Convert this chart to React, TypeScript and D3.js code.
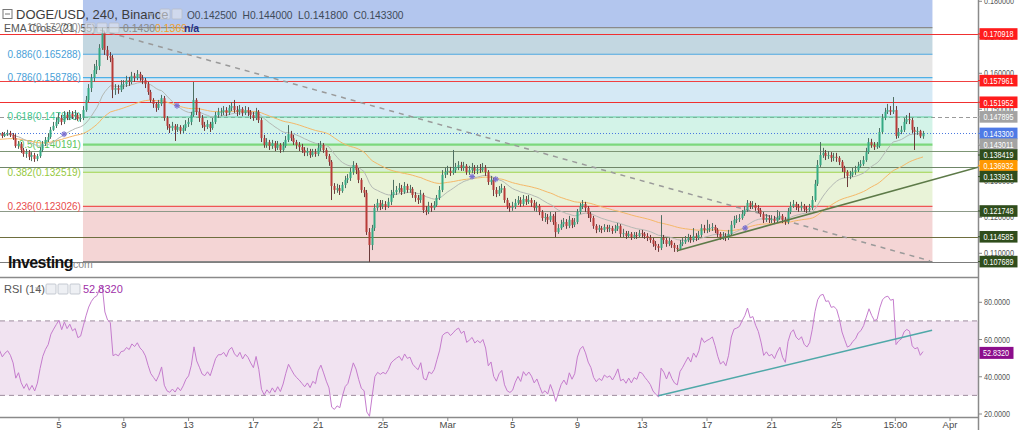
import React from "react";
import * as d3 from "d3";

// ---------- DATA (DOGE/USD 4h, Binance) ----------
const barStartUtc = Date.UTC(2022, 1, 1, 0, 0);
const barHours = 4;
const firstOpen = 0.1429;

const closes = [
  0.1431, 0.1429, 0.1434, 0.1426, 0.1431, 0.1434,
  0.1429, 0.1420, 0.1398, 0.1404, 0.1387, 0.1376,
  0.1381, 0.1368, 0.1373, 0.1362, 0.1370, 0.1387,
  0.1404, 0.1415, 0.1423, 0.1443, 0.1454, 0.1465,
  0.1476, 0.1465, 0.1484, 0.1476, 0.1487, 0.1479,
  0.1484, 0.1473, 0.1476, 0.1498, 0.1526, 0.1559,
  0.1587, 0.1609, 0.1620, 0.1670, 0.1712, 0.1665,
  0.1648, 0.1643, 0.1554, 0.1559, 0.1554, 0.1568,
  0.1570, 0.1581, 0.1576, 0.1593, 0.1587, 0.1598,
  0.1587, 0.1581, 0.1570, 0.1548, 0.1526, 0.1515,
  0.1504, 0.1515, 0.1531, 0.1476, 0.1454, 0.1448,
  0.1454, 0.1443, 0.1451, 0.1440, 0.1448, 0.1459,
  0.1465, 0.1484, 0.1526, 0.1493, 0.1476, 0.1456,
  0.1451, 0.1459, 0.1448, 0.1465, 0.1484, 0.1493,
  0.1493, 0.1498, 0.1490, 0.1504, 0.1509, 0.1498,
  0.1493, 0.1501, 0.1490, 0.1498, 0.1493, 0.1484,
  0.1476, 0.1493, 0.1470, 0.1420, 0.1401, 0.1409,
  0.1398, 0.1406, 0.1393, 0.1401, 0.1387, 0.1398,
  0.1415, 0.1431, 0.1420, 0.1409, 0.1401, 0.1395,
  0.1387, 0.1379, 0.1384, 0.1373, 0.1381, 0.1376,
  0.1393, 0.1401, 0.1387, 0.1370, 0.1354, 0.1287,
  0.1276, 0.1281, 0.1273, 0.1290, 0.1304, 0.1309,
  0.1326, 0.1345, 0.1331, 0.1304, 0.1276, 0.1268,
  0.1159, 0.1123, 0.1170, 0.1226, 0.1240, 0.1231,
  0.1237, 0.1231, 0.1243, 0.1262, 0.1270, 0.1276,
  0.1281, 0.1270, 0.1287, 0.1276, 0.1279, 0.1262,
  0.1254, 0.1248, 0.1262, 0.1220, 0.1215, 0.1231,
  0.1226, 0.1234, 0.1254, 0.1276, 0.1318, 0.1326,
  0.1329, 0.1323, 0.1331, 0.1340, 0.1345, 0.1337,
  0.1343, 0.1326, 0.1331, 0.1337, 0.1329, 0.1334,
  0.1331, 0.1337, 0.1326, 0.1298, 0.1304, 0.1276,
  0.1265, 0.1276, 0.1281, 0.1248, 0.1231, 0.1226,
  0.1229, 0.1240, 0.1248, 0.1237, 0.1251, 0.1243,
  0.1248, 0.1240, 0.1226, 0.1231, 0.1215, 0.1198,
  0.1201, 0.1193, 0.1204, 0.1187, 0.1159, 0.1170,
  0.1181, 0.1187, 0.1176, 0.1193, 0.1179, 0.1187,
  0.1215, 0.1231, 0.1237, 0.1226, 0.1209, 0.1198,
  0.1176, 0.1165, 0.1170, 0.1165, 0.1173, 0.1168,
  0.1170, 0.1162, 0.1168, 0.1176, 0.1154, 0.1156,
  0.1148, 0.1154, 0.1145, 0.1151, 0.1148, 0.1156,
  0.1154, 0.1148, 0.1143, 0.1137, 0.1126, 0.1120,
  0.1115, 0.1143, 0.1137, 0.1126, 0.1134, 0.1123,
  0.1115, 0.1112, 0.1126, 0.1131, 0.1137, 0.1143,
  0.1137, 0.1148, 0.1143, 0.1151, 0.1170, 0.1165,
  0.1168, 0.1170, 0.1173, 0.1165, 0.1154, 0.1145,
  0.1148, 0.1143, 0.1154, 0.1179, 0.1193, 0.1195,
  0.1198, 0.1209, 0.1220, 0.1240, 0.1231, 0.1234,
  0.1226, 0.1220, 0.1209, 0.1193, 0.1198, 0.1193,
  0.1195, 0.1190, 0.1198, 0.1204, 0.1193, 0.1187,
  0.1215, 0.1231, 0.1237, 0.1229, 0.1226, 0.1231,
  0.1223, 0.1220, 0.1226, 0.1248, 0.1293, 0.1345,
  0.1373, 0.1379, 0.1370, 0.1373, 0.1365, 0.1368,
  0.1365, 0.1354, 0.1337, 0.1326, 0.1315, 0.1318,
  0.1326, 0.1331, 0.1343, 0.1348, 0.1359, 0.1381,
  0.1409, 0.1401, 0.1395, 0.1398, 0.1437, 0.1476,
  0.1493, 0.1498, 0.1493, 0.1498, 0.1426, 0.1437,
  0.1443, 0.1465, 0.1473, 0.1470, 0.1443, 0.1437,
  0.1440, 0.1425, 0.1433,
];

const highs = [
  0.1440, 0.1437, 0.1440, 0.1437, 0.1437, 0.1443,
  0.1440, 0.1434, 0.1431, 0.1412, 0.1409, 0.1393,
  0.1390, 0.1387, 0.1381, 0.1379, 0.1376, 0.1395,
  0.1412, 0.1423, 0.1434, 0.1451, 0.1465, 0.1476,
  0.1490, 0.1484, 0.1495, 0.1493, 0.1498, 0.1495,
  0.1498, 0.1490, 0.1487, 0.1509, 0.1537, 0.1570,
  0.1598, 0.1626, 0.1637, 0.1681, 0.1727, 0.1715,
  0.1676, 0.1659, 0.1651, 0.1570, 0.1568, 0.1581,
  0.1581, 0.1593, 0.1590, 0.1604, 0.1601, 0.1609,
  0.1604, 0.1595, 0.1587, 0.1576, 0.1554, 0.1531,
  0.1520, 0.1526, 0.1540, 0.1537, 0.1481, 0.1459,
  0.1465, 0.1459, 0.1459, 0.1456, 0.1456, 0.1470,
  0.1476, 0.1493, 0.1576, 0.1531, 0.1504, 0.1484,
  0.1465, 0.1470, 0.1465, 0.1476, 0.1493, 0.1504,
  0.1504, 0.1509, 0.1506, 0.1512, 0.1520, 0.1526,
  0.1509, 0.1512, 0.1506, 0.1509, 0.1506, 0.1498,
  0.1493, 0.1504, 0.1498, 0.1476, 0.1429, 0.1420,
  0.1415, 0.1415, 0.1412, 0.1412, 0.1406, 0.1409,
  0.1426, 0.1456, 0.1440, 0.1429, 0.1415, 0.1409,
  0.1404, 0.1395, 0.1393, 0.1390, 0.1390, 0.1390,
  0.1406, 0.1412, 0.1406, 0.1393, 0.1376, 0.1359,
  0.1295, 0.1293, 0.1290, 0.1298, 0.1315, 0.1320,
  0.1337, 0.1356, 0.1351, 0.1337, 0.1309, 0.1284,
  0.1276, 0.1170, 0.1179, 0.1237, 0.1251, 0.1248,
  0.1248, 0.1245, 0.1254, 0.1276, 0.1304, 0.1287,
  0.1295, 0.1290, 0.1298, 0.1293, 0.1290, 0.1284,
  0.1270, 0.1262, 0.1276, 0.1268, 0.1231, 0.1243,
  0.1240, 0.1245, 0.1262, 0.1287, 0.1331, 0.1337,
  0.1343, 0.1340, 0.1387, 0.1351, 0.1356, 0.1354,
  0.1354, 0.1348, 0.1343, 0.1351, 0.1345, 0.1345,
  0.1348, 0.1351, 0.1345, 0.1331, 0.1315, 0.1309,
  0.1284, 0.1287, 0.1293, 0.1287, 0.1254, 0.1240,
  0.1243, 0.1251, 0.1259, 0.1256, 0.1262, 0.1259,
  0.1262, 0.1254, 0.1248, 0.1243, 0.1237, 0.1220,
  0.1212, 0.1209, 0.1215, 0.1209, 0.1215, 0.1181,
  0.1193, 0.1198, 0.1195, 0.1204, 0.1198, 0.1198,
  0.1223, 0.1240, 0.1248, 0.1243, 0.1231, 0.1215,
  0.1204, 0.1181, 0.1179, 0.1176, 0.1181, 0.1179,
  0.1179, 0.1176, 0.1179, 0.1184, 0.1181, 0.1168,
  0.1162, 0.1162, 0.1159, 0.1159, 0.1159, 0.1165,
  0.1165, 0.1159, 0.1156, 0.1151, 0.1143, 0.1134,
  0.1126, 0.1206, 0.1151, 0.1143, 0.1143, 0.1137,
  0.1129, 0.1123, 0.1137, 0.1143, 0.1148, 0.1154,
  0.1151, 0.1170, 0.1156, 0.1162, 0.1181, 0.1179,
  0.1193, 0.1181, 0.1184, 0.1179, 0.1170, 0.1159,
  0.1159, 0.1156, 0.1165, 0.1190, 0.1204, 0.1206,
  0.1209, 0.1220, 0.1231, 0.1248, 0.1245, 0.1245,
  0.1240, 0.1234, 0.1226, 0.1215, 0.1209, 0.1206,
  0.1206, 0.1204, 0.1220, 0.1215, 0.1209, 0.1201,
  0.1226, 0.1243, 0.1248, 0.1243, 0.1237, 0.1243,
  0.1237, 0.1231, 0.1237, 0.1259, 0.1304, 0.1359,
  0.1409, 0.1393, 0.1387, 0.1384, 0.1381, 0.1379,
  0.1379, 0.1370, 0.1359, 0.1343, 0.1331, 0.1329,
  0.1337, 0.1343, 0.1354, 0.1359, 0.1370, 0.1393,
  0.1420, 0.1418, 0.1409, 0.1409, 0.1448, 0.1487,
  0.1504, 0.1515, 0.1509, 0.1534, 0.1509, 0.1448,
  0.1454, 0.1476, 0.1484, 0.1490, 0.1476, 0.1451,
  0.1451, 0.1443, 0.1440,
];

const lows = [
  0.1423, 0.1423, 0.1426, 0.1420, 0.1423, 0.1426,
  0.1423, 0.1415, 0.1393, 0.1390, 0.1379, 0.1368,
  0.1365, 0.1359, 0.1356, 0.1354, 0.1356, 0.1365,
  0.1381, 0.1398, 0.1409, 0.1418, 0.1440, 0.1448,
  0.1459, 0.1456, 0.1459, 0.1470, 0.1470, 0.1473,
  0.1470, 0.1468, 0.1465, 0.1470, 0.1493, 0.1520,
  0.1548, 0.1576, 0.1598, 0.1609, 0.1665, 0.1651,
  0.1637, 0.1631, 0.1531, 0.1540, 0.1543, 0.1548,
  0.1556, 0.1562, 0.1565, 0.1570, 0.1576, 0.1581,
  0.1579, 0.1570, 0.1559, 0.1540, 0.1518, 0.1504,
  0.1493, 0.1498, 0.1509, 0.1468, 0.1443, 0.1434,
  0.1440, 0.1412, 0.1437, 0.1431, 0.1434, 0.1440,
  0.1451, 0.1456, 0.1479, 0.1484, 0.1465, 0.1448,
  0.1440, 0.1445, 0.1437, 0.1443, 0.1459, 0.1476,
  0.1481, 0.1484, 0.1481, 0.1484, 0.1495, 0.1490,
  0.1481, 0.1484, 0.1481, 0.1484, 0.1481, 0.1473,
  0.1468, 0.1470, 0.1462, 0.1409, 0.1393, 0.1393,
  0.1387, 0.1390, 0.1384, 0.1387, 0.1379, 0.1381,
  0.1393, 0.1409, 0.1412, 0.1401, 0.1390, 0.1384,
  0.1379, 0.1370, 0.1370, 0.1365, 0.1368, 0.1368,
  0.1370, 0.1384, 0.1379, 0.1362, 0.1343, 0.1248,
  0.1265, 0.1268, 0.1262, 0.1268, 0.1281, 0.1295,
  0.1301, 0.1318, 0.1320, 0.1295, 0.1268, 0.1256,
  0.1151, 0.1076, 0.1109, 0.1162, 0.1218, 0.1220,
  0.1223, 0.1220, 0.1226, 0.1234, 0.1254, 0.1262,
  0.1268, 0.1262, 0.1265, 0.1268, 0.1268, 0.1254,
  0.1243, 0.1237, 0.1240, 0.1212, 0.1206, 0.1209,
  0.1215, 0.1220, 0.1229, 0.1248, 0.1270, 0.1309,
  0.1318, 0.1315, 0.1318, 0.1323, 0.1331, 0.1329,
  0.1329, 0.1318, 0.1318, 0.1323, 0.1320, 0.1320,
  0.1323, 0.1326, 0.1315, 0.1290, 0.1290, 0.1259,
  0.1256, 0.1259, 0.1268, 0.1240, 0.1223, 0.1215,
  0.1218, 0.1223, 0.1234, 0.1229, 0.1231, 0.1234,
  0.1237, 0.1229, 0.1218, 0.1215, 0.1206, 0.1190,
  0.1187, 0.1181, 0.1187, 0.1179, 0.1145, 0.1154,
  0.1165, 0.1173, 0.1168, 0.1170, 0.1170, 0.1173,
  0.1181, 0.1209, 0.1223, 0.1215, 0.1198, 0.1187,
  0.1168, 0.1156, 0.1159, 0.1156, 0.1159, 0.1159,
  0.1159, 0.1154, 0.1156, 0.1162, 0.1145, 0.1145,
  0.1140, 0.1143, 0.1137, 0.1140, 0.1140, 0.1143,
  0.1143, 0.1140, 0.1134, 0.1129, 0.1118, 0.1109,
  0.1104, 0.1109, 0.1126, 0.1118, 0.1120, 0.1115,
  0.1104, 0.1104, 0.1109, 0.1120, 0.1126, 0.1131,
  0.1129, 0.1131, 0.1134, 0.1137, 0.1145, 0.1156,
  0.1156, 0.1159, 0.1162, 0.1156, 0.1145, 0.1137,
  0.1137, 0.1134, 0.1137, 0.1148, 0.1170, 0.1184,
  0.1187, 0.1193, 0.1204, 0.1215, 0.1223, 0.1223,
  0.1218, 0.1212, 0.1201, 0.1184, 0.1187, 0.1184,
  0.1184, 0.1181, 0.1184, 0.1193, 0.1184, 0.1179,
  0.1181, 0.1209, 0.1226, 0.1220, 0.1215, 0.1218,
  0.1215, 0.1212, 0.1215, 0.1220, 0.1243, 0.1287,
  0.1340, 0.1365, 0.1359, 0.1362, 0.1354, 0.1356,
  0.1354, 0.1345, 0.1326, 0.1309, 0.1284, 0.1306,
  0.1312, 0.1318, 0.1326, 0.1337, 0.1343, 0.1354,
  0.1376, 0.1393, 0.1387, 0.1390, 0.1393, 0.1431,
  0.1470, 0.1487, 0.1484, 0.1487, 0.1418, 0.1420,
  0.1431, 0.1437, 0.1459, 0.1459, 0.1434, 0.1387,
  0.1429, 0.1420, 0.1418,
];

const ema21Seed = 0.1428;
const ema55Seed = 0.1415;
const rsiSeedGain = 0.00055;
const rsiSeedLoss = 0.0005;

// Fibonacci retracement
const fibLow = 0.107682;
const fibHigh = 0.1727;
const fibStart = "2022-02-06T11:30:00Z";
const fibEnd = "2022-03-30T22:00:00Z";
const fibLevels = [1.618, 1, 0.886, 0.786, 0.618, 0.5, 0.382, 0.236, 0];
const fibLineColors = ["#3f6fd8", "#8a8a8a", "#4da6df", "#4fb0e6", "#5ccf9e", "#7cd87c", "#9ed24a", "#ef5555", "#888888"];
const fibBandColors = ["#b3c6ee", "#c3d7e1", "#e6e6e6", "#d5e9f5", "#d3f3e8", "#d6efd6", "#e9f3d8", "#f4d5d5"];
const fibLabelColors = ["#3f6fd8", "#8a8a8a", "#4a9fd8", "#4a9fd8", "#3fc88e", "#5cc45c", "#95c93e", "#e84c4c", "#888888"];

// horizontal support / resistance lines
const hLinePrices = [0.170918, 0.157961, 0.151952, 0.147895, 0.1433, 0.138419, 0.133931, 0.121748, 0.114585, 0.107689];
const hLineColors = ["#f03030", "#f04040", "#f03030", "#9a9a9a", "#4a78e0", "#7d9575", "#6f8668", "#8d9a89", "#6e6e3e", "#7c7c7c"];
const hLineDash = ["", "", "", "4,3", "1,2", "", "", "", "", ""];

// right axis value labels
const axisLabelValues = [0.170918, 0.157961, 0.151952, 0.147895, 0.1433, 0.143011, 0.138419, 0.136932, 0.133931, 0.121748, 0.114585, 0.107689];
const axisLabelColors = ["#ff1c1c", "#ff1c1c", "#ff1c1c", "#a3a3a3", "#4e7ae6", "#a3a3a3", "#2f4d1c", "#ff9800", "#2f4d1c", "#2f4d1c", "#2f4d1c", "#2f4d1c"];
const priceTicks = [0.11, 0.12, 0.13, 0.14, 0.15, 0.16, 0.17, 0.18];
const rsiTicks = [20, 40, 60, 80];

// trend lines [time, value]
const dashedTrend = [["2022-02-07T13:00:00Z", 0.172], ["2022-03-30T18:30:00Z", 0.1079]];
const priceTrend = [["2022-03-15T03:30:00Z", 0.1107], ["2022-03-29T00:00:00Z", 0.128]];
const rsiTrend = [["2022-03-14T00:00:00Z", 29.8], ["2022-03-30T21:30:00Z", 65]];

// EMA cross markers
const crossTimes = ["2022-02-05T07:30:00Z", "2022-02-12T06:45:00Z", "2022-03-02T12:00:00Z", "2022-03-03T23:00:00Z", "2022-03-19T08:30:00Z"];
const crossPrices = [0.1431, 0.151, 0.1313, 0.1306, 0.117];

// time axis labels
const xTickTimes = ["2022-02-05", "2022-02-09", "2022-02-13", "2022-02-17", "2022-02-21", "2022-02-25", "2022-03-01", "2022-03-05", "2022-03-09", "2022-03-13", "2022-03-17", "2022-03-21", "2022-03-25", "2022-03-28T15:00:00Z", "2022-04-01"];
const xTickLabels = ["5", "9", "13", "17", "21", "25", "Mar", "5", "9", "13", "17", "21", "25", "15:00", "Apr"];

const headerOHLC = ["O0.142500", "H0.144000", "L0.141800", "C0.143300"];
const emaValues = ["0.1430", "0.1369", "n/a"];
const rsiValue = 52.832;

// ---------- LAYOUT ----------
const W = 1024;
const H = 430;
const AXIS_X = 978;
const SPLIT = 277;
const BOTTOM = 417;
const FONT = "'Liberation Sans', Arial, Helvetica, sans-serif";

export default function App() {
  const x = d3
    .scaleUtc()
    .domain([new Date(Date.UTC(2022, 1, 1)), new Date(Date.UTC(2022, 3, 3))])
    .range([-5.8, 982.4]);
  const y = d3.scaleLinear().domain([0.16, 0.11]).range([73.3, 253.3]);
  const yR = d3.scaleLinear().domain([80, 20]).range([302.3, 414]);

  const bars = closes.map((c, i) => {
    const o = i === 0 ? firstOpen : closes[i - 1];
    return {
      t: new Date(barStartUtc + i * barHours * 3600e3),
      o,
      c,
      h: Math.max(highs[i], o, c),
      l: Math.min(lows[i], o, c),
    };
  });

  const ema = (n: number, seed: number) => {
    const a = 2 / (n + 1);
    let e = seed;
    return closes.map((c) => (e = a * c + (1 - a) * e));
  };
  const ema21 = ema(21, ema21Seed);
  const ema55 = ema(55, ema55Seed);

  let ag = rsiSeedGain;
  let al = rsiSeedLoss;
  let prev = firstOpen;
  const rsi = closes.map((c) => {
    const ch = c - prev;
    prev = c;
    ag = (ag * 13 + Math.max(ch, 0)) / 14;
    al = (al * 13 + Math.max(-ch, 0)) / 14;
    return 100 - 100 / (1 + ag / al);
  });

  const lineP = d3
    .line<number>()
    .x((_, i) => x(bars[i].t))
    .y((v) => y(v));
  const lineR = d3
    .line<number>()
    .x((_, i) => x(bars[i].t))
    .y((v) => yR(v));

  const fx1 = x(new Date(fibStart));
  const fx2 = x(new Date(fibEnd));
  const fibPrice = (lv: number) => fibLow + lv * (fibHigh - fibLow);

  // right axis labels with collision avoidance
  const labs = axisLabelValues
    .map((v, i) => ({ v, c: axisLabelColors[i], y: y(v) }))
    .sort((a, b) => a.y - b.y);
  for (let i = 1; i < labs.length; i++) {
    if (labs[i].y < labs[i - 1].y + 10.8) labs[i].y = labs[i - 1].y + 10.8;
  }

  const extendLine = (pts: any[], sy: any, xEnd: number) => {
    const x1 = x(new Date(pts[0][0]));
    const y1 = sy(pts[0][1]);
    const x2 = x(new Date(pts[1][0]));
    const y2 = sy(pts[1][1]);
    const k = (y2 - y1) / (x2 - x1);
    return { x1, y1, x2: xEnd, y2: y1 + k * (xEnd - x1) };
  };
  const dt = { x1: x(new Date(dashedTrend[0][0] as string)), y1: y(dashedTrend[0][1] as number), x2: x(new Date(dashedTrend[1][0] as string)), y2: y(dashedTrend[1][1] as number) };
  const pt = extendLine(priceTrend, y, AXIS_X);
  const rt = { x1: x(new Date(rsiTrend[0][0] as string)), y1: yR(rsiTrend[0][1] as number), x2: x(new Date(rsiTrend[1][0] as string)), y2: yR(rsiTrend[1][1] as number) };

  const upFill = "#35a983";
  const dnFill = "#b83b38";

  const iconBox = (bx: number, by: number, key: string) => (
    <rect key={key} x={bx} y={by} width={10} height={10} rx={1} fill="#e3e6ec" fillOpacity={0.6} stroke="#b8bec8" strokeWidth={0.8} />
  );

  const axisText = (tx: number, ty: number, s: string, fill: string, len: number, key?: string) => (
    <text key={key} x={tx} y={ty} dominantBaseline="central" fontSize={9} fill={fill} textLength={len} lengthAdjust="spacingAndGlyphs">
      {s}
    </text>
  );

  return (
    <svg width={W} height={H} style={{ position: "absolute", left: 0, top: 0, background: "#fff" }} fontFamily={FONT}>
      <defs>
        <clipPath id="mainClip">
          <rect x={0} y={0} width={AXIS_X} height={SPLIT} />
        </clipPath>
        <clipPath id="rsiClip">
          <rect x={0} y={SPLIT} width={AXIS_X} height={BOTTOM - SPLIT} />
        </clipPath>
      </defs>
      <rect x={0} y={0} width={W} height={H} fill="#fff" />

      {/* ---------- MAIN PANE ---------- */}
      <g clipPath="url(#mainClip)">
        {fibBandColors.map((col, k) => {
          const ya = y(fibPrice(fibLevels[k]));
          const yb = y(fibPrice(fibLevels[k + 1]));
          return <rect key={"fb" + k} x={fx1} y={Math.min(ya, yb)} width={fx2 - fx1} height={Math.abs(yb - ya)} fill={col} />;
        })}
        {hLinePrices.map((p, i) => (
          <line key={"hl" + i} x1={0} x2={AXIS_X} y1={Math.round(y(p)) + 0.5} y2={Math.round(y(p)) + 0.5} stroke={hLineColors[i]} strokeWidth={i === 4 ? 1 : 1.2} strokeDasharray={hLineDash[i] || undefined} />
        ))}
        {fibLevels.map((lv, k) =>
          k === 0 ? null : (
            <line key={"fl" + k} x1={fx1} x2={fx2} y1={y(fibPrice(lv))} y2={y(fibPrice(lv))} stroke={fibLineColors[k]} strokeWidth={lv === 0.5 ? 2.2 : 1.2} />
          )
        )}
        {fibLevels.map((lv, k) =>
          k === 0 || lv === 0 ? null : (
            <text key={"ft" + k} x={fx1 - 2} y={y(fibPrice(lv))} textAnchor="end" dominantBaseline="central" fontSize={10} fill={fibLabelColors[k]}>
              {`${lv}(${fibPrice(lv).toFixed(6)})`}
            </text>
          )
        )}
        <line x1={dt.x1} y1={dt.y1} x2={dt.x2} y2={dt.y2} stroke="#9a9a9a" strokeWidth={1.5} strokeDasharray="5,5" />
        <path d={lineP(ema55) || ""} fill="none" stroke="#f5b868" strokeWidth={1} />
        <path d={lineP(ema21) || ""} fill="none" stroke="#b4b9b4" strokeWidth={1} />
        {bars.map((b, i) => {
          const cx = Math.floor(x(b.t));
          const up = b.c >= b.o;
          const yt = y(Math.max(b.o, b.c));
          const yb = y(Math.min(b.o, b.c));
          return (
            <g key={"c" + i}>
              <line x1={cx + 0.5} x2={cx + 0.5} y1={y(b.h)} y2={y(b.l)} stroke={up ? "#4f6f62" : "#6b3a3a"} strokeWidth={1} />
              <rect x={cx - 0.5} y={yt} width={2} height={Math.max(1, yb - yt)} fill={up ? upFill : dnFill} />
            </g>
          );
        })}
        {crossTimes.map((t, i) => {
          const cx = x(new Date(t));
          const cy = y(crossPrices[i]);
          return (
            <g key={"cm" + i} stroke="#7a6fd0" strokeWidth={1.2}>
              <line x1={cx - 3} x2={cx + 3} y1={cy} y2={cy} />
              <line x1={cx} x2={cx} y1={cy - 3} y2={cy + 3} />
              <line x1={cx - 2} x2={cx + 2} y1={cy - 2} y2={cy + 2} />
              <line x1={cx - 2} x2={cx + 2} y1={cy + 2} y2={cy - 2} />
            </g>
          );
        })}
        <line x1={pt.x1} y1={pt.y1} x2={pt.x2} y2={pt.y2} stroke="#5d7a48" strokeWidth={1.6} />
      </g>

      {/* header */}
      <rect x={3} y={9.5} width={9} height={9} fill="none" stroke="#777" strokeWidth={1} />
      <line x1={5} x2={10} y1={14} y2={14} stroke="#777" strokeWidth={1} />
      <text x={16} y={14.5} dominantBaseline="central" fontSize={13} fill="#3c3c3c">
        DOGE/USD, 240, Binance
      </text>
      <path d="M148,13 L154,13 L151,16.5 Z" fill="#9aa4b4" />
      {iconBox(160, 9, "i1")}
      {iconBox(172, 9, "i2")}
      {headerOHLC.map((s, i) => (
        <text key={"oh" + i} x={187 + i * 55.5} y={14.5} dominantBaseline="central" fontSize={11.5} fill="#3e4a58" textLength={50} lengthAdjust="spacingAndGlyphs">
          {s}
        </text>
      ))}
      <text x={4} y={28} dominantBaseline="central" fontSize={10.5} fill="#555">
        EMA Cross (21, 55)
      </text>
      {iconBox(85, 23, "i3")}
      {iconBox(97, 23, "i4")}
      {iconBox(109, 23, "i5")}
      <text x={123} y={28} dominantBaseline="central" fontSize={10.5} fill="#8a8a8a">
        {emaValues[0]}
      </text>
      <text x={155} y={28} dominantBaseline="central" fontSize={10.5} fill="#f0a030">
        {emaValues[1]}
      </text>
      <text x={184} y={28} dominantBaseline="central" fontSize={10.5} fill="#1f2f8a" fontWeight="bold">
        {emaValues[2]}
      </text>

      <text x={8} y={262} dominantBaseline="central" fontSize={16} fontWeight="bold" fill="#111" letterSpacing={-0.6}>
        Investing
      </text>
      <text x={70} y={264} dominantBaseline="central" fontSize={10.5} fill="#8a8a8a">
        .com
      </text>

      {/* ---------- RSI PANE ---------- */}
      <g clipPath="url(#rsiClip)">
        <rect x={0} y={yR(70)} width={AXIS_X} height={yR(30) - yR(70)} fill="#f1e3f1" />
        <line x1={0} x2={AXIS_X} y1={yR(70)} y2={yR(70)} stroke="#9e8c9e" strokeWidth={1} strokeDasharray="5,4" />
        <line x1={0} x2={AXIS_X} y1={yR(30)} y2={yR(30)} stroke="#9e8c9e" strokeWidth={1} strokeDasharray="5,4" />
        <path d={lineR(rsi) || ""} fill="none" stroke="#c57ccd" strokeWidth={1} />
        <line x1={rt.x1} y1={rt.y1} x2={rt.x2} y2={rt.y2} stroke="#4fa8a8" strokeWidth={1.5} />
      </g>
      <text x={4} y={289} dominantBaseline="central" fontSize={11} fill="#555">
        RSI (14)
      </text>
      <path d="M35,287.5 L40,287.5 L37.5,290.5 Z" fill="#aaa" />
      {iconBox(46, 284, "i6")}
      {iconBox(58, 284, "i7")}
      {iconBox(70, 284, "i8")}
      <text x={83} y={289} dominantBaseline="central" fontSize={11} fill="#a030a8">
        {rsiValue.toFixed(4)}
      </text>

      {/* ---------- AXES ---------- */}
      <line x1={0} x2={AXIS_X} y1={SPLIT + 0.5} y2={SPLIT + 0.5} stroke="#8a8a8a" strokeWidth={1.5} />
      <line x1={0} x2={AXIS_X} y1={BOTTOM + 0.5} y2={BOTTOM + 0.5} stroke="#8a8a8a" strokeWidth={1.5} />
      <line x1={AXIS_X + 0.5} x2={AXIS_X + 0.5} y1={0} y2={H} stroke="#8a8a8a" strokeWidth={1.5} />

      {priceTicks.map((p, i) => (
        <g key={"pt" + i}>
          <line x1={AXIS_X} x2={AXIS_X + 4} y1={y(p)} y2={y(p)} stroke="#888" />
          {axisText(984, y(p), p.toFixed(6), "#555", 30)}
        </g>
      ))}
      {labs.map((l, i) => (
        <g key={"al" + i}>
          <line x1={AXIS_X} x2={AXIS_X + 4} y1={l.y} y2={l.y} stroke={l.c} />
          <rect x={AXIS_X + 1.5} y={l.y - 5.8} width={38} height={11.6} fill={l.c} />
          {axisText(983.5, l.y + 0.3, l.v.toFixed(6), "#fff", 30)}
        </g>
      ))}

      {rsiTicks.map((v, i) => (
        <g key={"rt" + i}>
          <line x1={AXIS_X} x2={AXIS_X + 4} y1={yR(v)} y2={yR(v)} stroke="#888" />
          {axisText(984, yR(v), v.toFixed(4), "#555", 26)}
        </g>
      ))}
      <rect x={AXIS_X + 1.5} y={yR(rsiValue) - 6} width={34} height={12} fill="#8c0d8c" />
      {axisText(983, yR(rsiValue) + 0.3, rsiValue.toFixed(4), "#fff", 26)}

      {xTickTimes.map((t, i) => {
        const tx = x(new Date(t.length === 10 ? t + "T00:00:00Z" : t));
        return (
          <g key={"xt" + i}>
            <line x1={tx} x2={tx} y1={BOTTOM} y2={BOTTOM + 4} stroke="#888" />
            <text x={tx} y={424.5} textAnchor="middle" dominantBaseline="central" fontSize={9.5} fill="#4a4a4a">
              {xTickLabels[i]}
            </text>
          </g>
        );
      })}
    </svg>
  );
}
